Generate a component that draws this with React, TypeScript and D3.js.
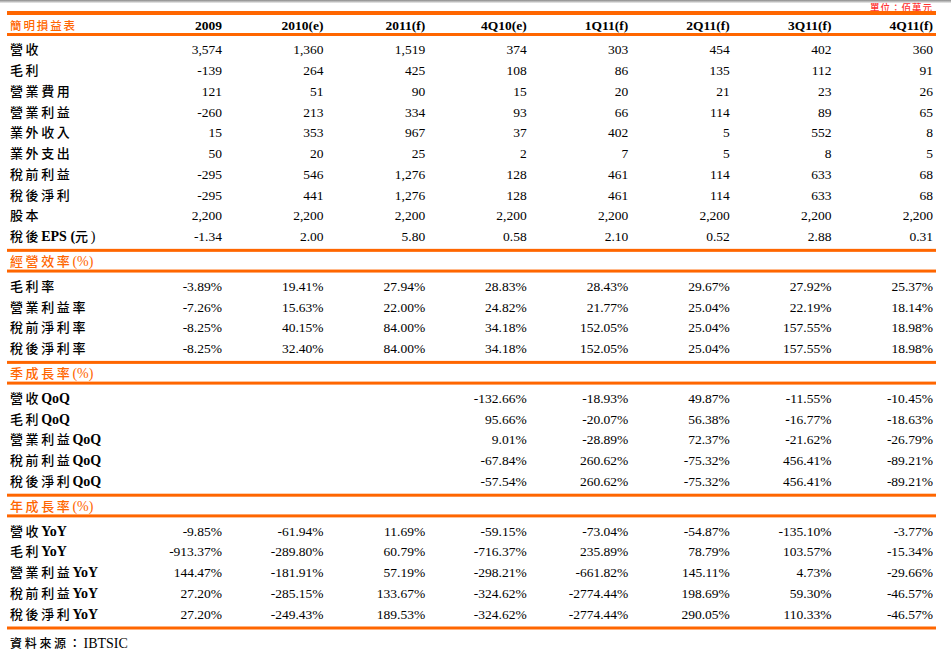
import React from "react";
import * as d3 from "d3";

const columns = ["2009", "2010(e)", "2011(f)", "4Q10(e)", "1Q11(f)", "2Q11(f)", "3Q11(f)", "4Q11(f)"];

const incomeLabels = ["營收", "毛利", "營業費用", "營業利益", "業外收入", "業外支出", "稅前利益", "稅後淨利", "股本", "稅後EPS (元)"];
const incomeValues = [
  [3574, 1360, 1519, 374, 303, 454, 402, 360],
  [-139, 264, 425, 108, 86, 135, 112, 91],
  [121, 51, 90, 15, 20, 21, 23, 26],
  [-260, 213, 334, 93, 66, 114, 89, 65],
  [15, 353, 967, 37, 402, 5, 552, 8],
  [50, 20, 25, 2, 7, 5, 8, 5],
  [-295, 546, 1276, 128, 461, 114, 633, 68],
  [-295, 441, 1276, 128, 461, 114, 633, 68],
  [2200, 2200, 2200, 2200, 2200, 2200, 2200, 2200],
  [-1.34, 2.0, 5.8, 0.58, 2.1, 0.52, 2.88, 0.31],
];

const marginLabels = ["毛利率", "營業利益率", "稅前淨利率", "稅後淨利率"];
const marginValues = [
  [-3.89, 19.41, 27.94, 28.83, 28.43, 29.67, 27.92, 25.37],
  [-7.26, 15.63, 22.0, 24.82, 21.77, 25.04, 22.19, 18.14],
  [-8.25, 40.15, 84.0, 34.18, 152.05, 25.04, 157.55, 18.98],
  [-8.25, 32.4, 84.0, 34.18, 152.05, 25.04, 157.55, 18.98],
];

const qoqLabels = ["營收QoQ", "毛利QoQ", "營業利益QoQ", "稅前利益QoQ", "稅後淨利QoQ"];
const qoqValues = [
  [null, null, null, -132.66, -18.93, 49.87, -11.55, -10.45],
  [null, null, null, 95.66, -20.07, 56.38, -16.77, -18.63],
  [null, null, null, 9.01, -28.89, 72.37, -21.62, -26.79],
  [null, null, null, -67.84, 260.62, -75.32, 456.41, -89.21],
  [null, null, null, -57.54, 260.62, -75.32, 456.41, -89.21],
];

const yoyLabels = ["營收YoY", "毛利YoY", "營業利益YoY", "稅前利益YoY", "稅後淨利YoY"];
const yoyValues = [
  [-9.85, -61.94, 11.69, -59.15, -73.04, -54.87, -135.1, -3.77],
  [-913.37, -289.8, 60.79, -716.37, 235.89, 78.79, 103.57, -15.34],
  [144.47, -181.91, 57.19, -298.21, -661.82, 145.11, 4.73, -29.66],
  [27.2, -285.15, 133.67, -324.62, -2774.44, 198.69, 59.3, -46.57],
  [27.2, -249.43, 189.53, -324.62, -2774.44, 290.05, 110.33, -46.57],
];

const locale = d3.formatLocale({ decimal: ".", thousands: ",", grouping: [3], currency: ["", ""], minus: "-" });
const fmtInt = locale.format(",");
const fmt2 = locale.format(".2f");
const fmtPct = (v: number) => fmt2(v) + "%";

const ORANGE = "#ff6600";
const SERIF = "'Liberation Serif', 'Times New Roman', serif";
const CJK = "'Noto Sans CJK TC', 'Noto Sans CJK SC', sans-serif";

const sections = [
  { title: null, labels: incomeLabels, values: incomeValues, fmt: (v: number, r: number) => (r === 9 ? fmt2(v) : fmtInt(v)) },
  { title: "經營效率(%)", labels: marginLabels, values: marginValues, fmt: fmtPct },
  { title: "季成長率(%)", labels: qoqLabels, values: qoqValues, fmt: fmtPct },
  { title: "年成長率(%)", labels: yoyLabels, values: yoyValues, fmt: fmtPct },
];

// split a label into CJK / latin runs
function runs(s: string) {
  const out: { t: string; cjk: boolean }[] = [];
  for (const ch of s) {
    const cjk = /[\u3000-\u9fff\uff00-\uffef]/.test(ch);
    const last = out[out.length - 1];
    if (last && last.cjk === cjk) last.t += ch;
    else out.push({ t: ch, cjk });
  }
  return out;
}

function Label({ x, y, text, color = "#000", size = 13, spacing = 2.6, anchor = "start", bold = true }: any) {
  return (
    <text x={x} y={y} fill={color} textAnchor={anchor}>
      {runs(text).map((r, i) =>
        r.cjk ? (
          <tspan key={i} fontFamily={CJK} fontSize={size} fontWeight={500} letterSpacing={spacing}>{r.t}</tspan>
        ) : (
          <tspan key={i} fontFamily={SERIF} fontSize={14} fontWeight={bold && /[A-Za-z]/.test(r.t) ? "bold" : "normal"}>{r.t}</tspan>
        )
      )}
    </text>
  );
}

export default function App() {
  const width = 951;
  const height = 657;
  const x = d3.scalePoint<string>().domain(columns).range([222, 933]);

  const ROW = 20.75;
  const lines: { y: number; w: number }[] = [{ y: 13, w: 4 }, { y: 34.5, w: 3 }];
  const titles: { y: number; t: string }[] = [];
  const rows: { y: number; label: string; cells: (string | null)[] }[] = [];
  let lineY = 34.5;
  sections.forEach((s) => {
    if (s.title) {
      titles.push({ y: lineY + 15.5, t: s.title });
      lineY += 20.7;
      lines.push({ y: lineY, w: 3 });
    }
    const first = lineY + 19.8;
    s.labels.forEach((lab, r) => {
      rows.push({
        y: first + r * ROW,
        label: lab,
        cells: s.values[r].map((v: number | null) => (v == null ? null : (s.fmt as any)(v, r))),
      });
    });
    lineY = first + (s.labels.length - 1) * ROW + 9.3;
    lines.push({ y: lineY, w: 3 });
  });

  return (
    <svg width={width} height={height} style={{ position: "absolute", left: 0, top: 0, background: "#fff" }}>
      <defs>
        <linearGradient id="topbar" x1="0" y1="0" x2="0" y2="1">
          <stop offset="0" stopColor="#8a8a8a" />
          <stop offset="1" stopColor="#eeeeee" />
        </linearGradient>
      </defs>
      <rect x={0} y={0} width={width} height={3} fill="url(#topbar)" />
      <Label x={933} y={10.5} text="單位：佰萬元" color="#ff3333" size={9.5} spacing={1} anchor="end" />
      {lines.map((l, i) => (
        <rect key={i} x={7} y={l.y - l.w / 2} width={929} height={l.w} fill={ORANGE} />
      ))}
      <Label x={10} y={30} text="簡明損益表" color={ORANGE} size={11.5} spacing={1.9} />
      {columns.map((c) => (
        <text key={c} x={x(c)} y={30} textAnchor="end" fontFamily={SERIF} fontWeight="bold" fontSize={13.5} fill="#000">
          {c}
        </text>
      ))}
      {titles.map((t, i) => (
        <Label key={i} x={10} y={t.y} text={t.t} color={ORANGE} />
      ))}
      {rows.map((r, i) => (
        <g key={i}>
          <Label x={10} y={r.y} text={r.label} />
          {r.cells.map((c, j) =>
            c == null ? null : (
              <text key={j} x={x(columns[j])} y={r.y} textAnchor="end" fontFamily={SERIF} fontSize={13.5} fill="#000">
                {c}
              </text>
            )
          )}
        </g>
      ))}
      <Label x={10} y={648} text="資料來源：IBTSIC" size={12} spacing={2.7} bold={false} />
    </svg>
  );
}
